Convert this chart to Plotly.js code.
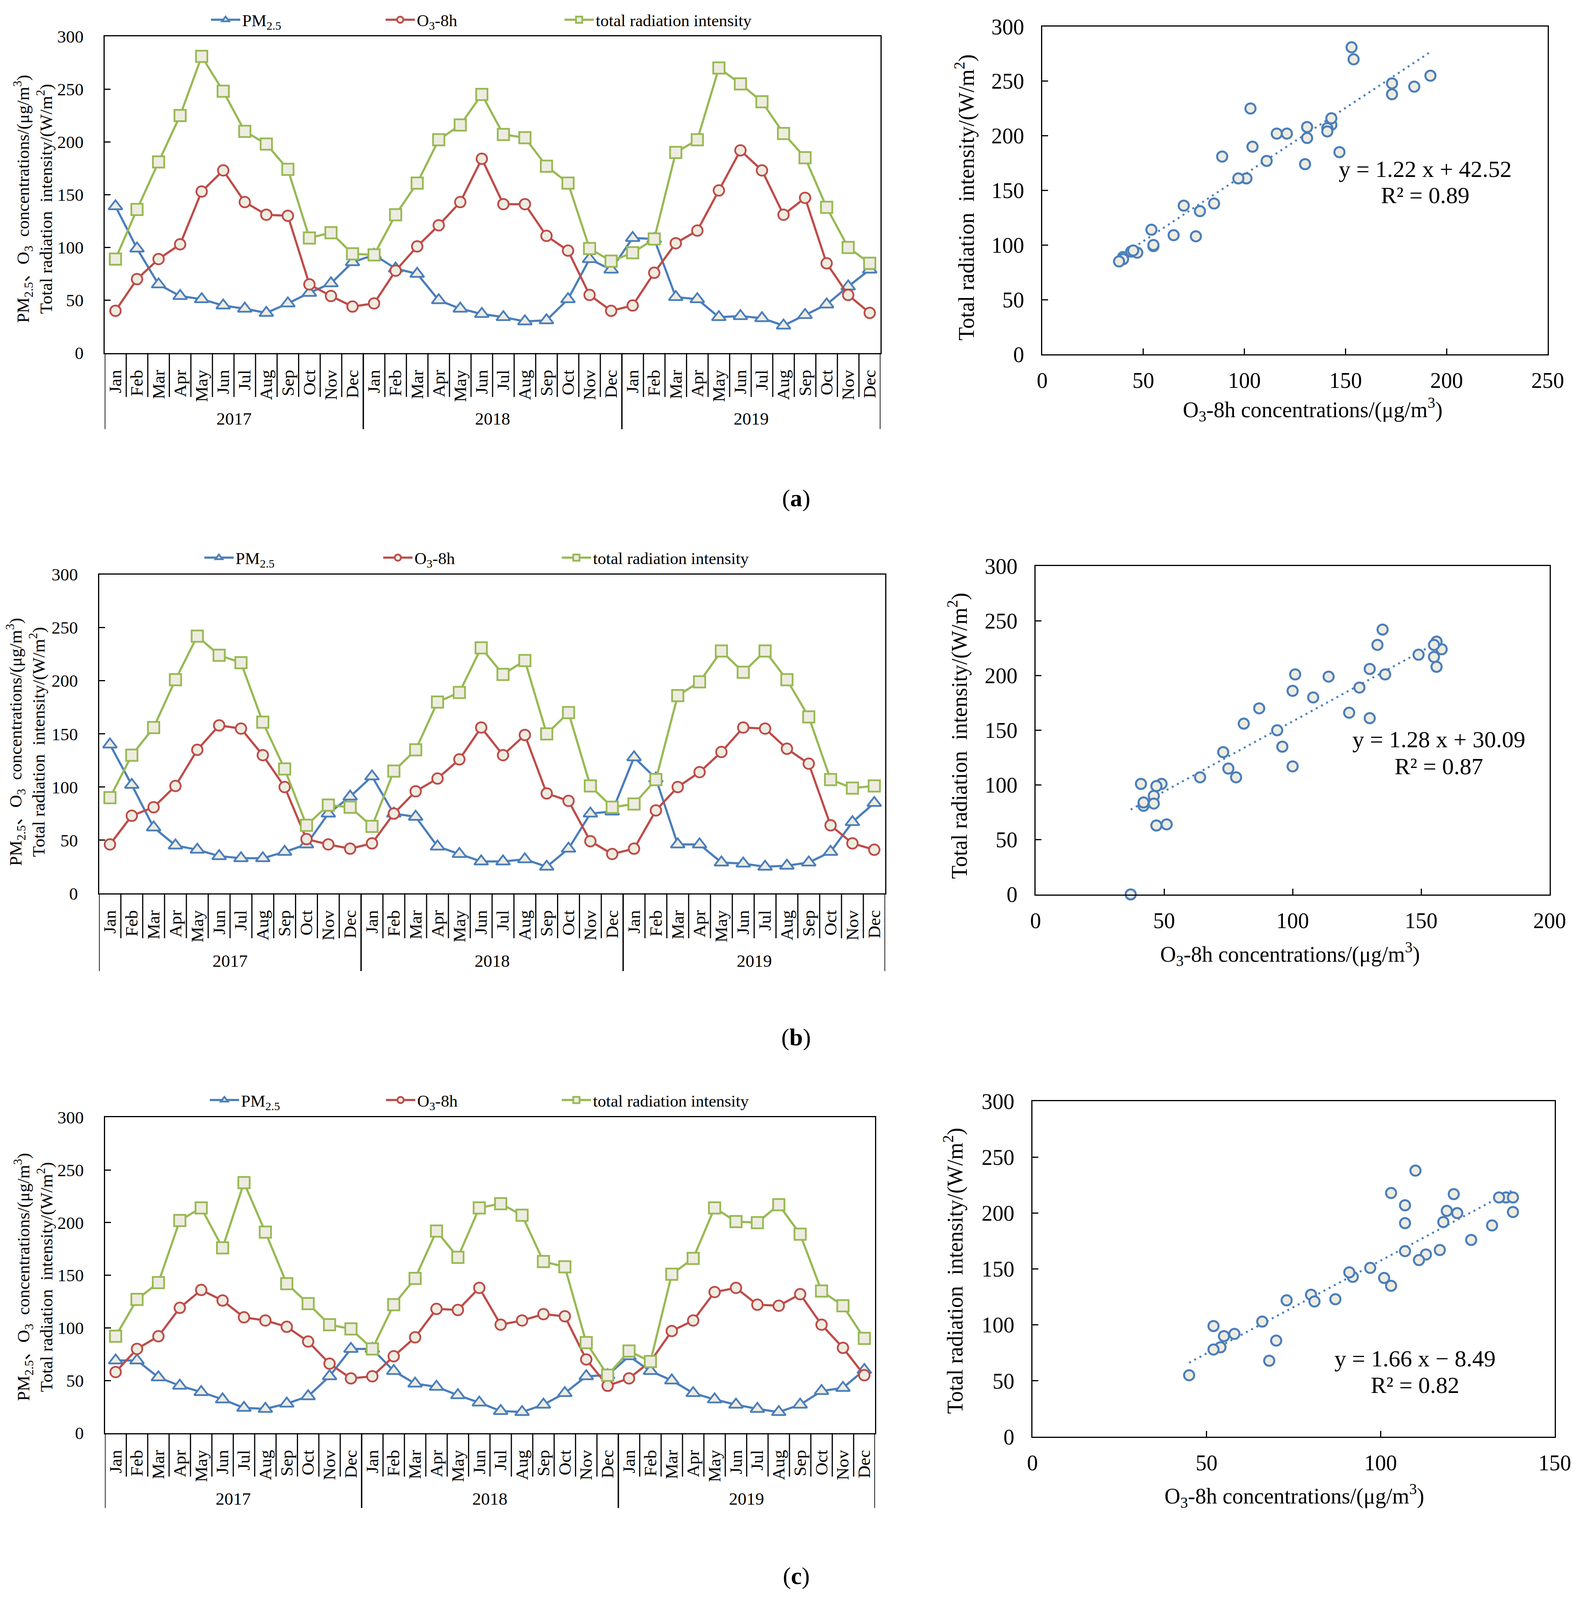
<!DOCTYPE html>
<html>
<head>
<meta charset="utf-8">
<script src="https://cdn.plot.ly/plotly-3.0.1.min.js"></script>
<style>html,body{margin:0;padding:0;background:#fff;overflow:hidden;}</style>
</head>
<body>
<div id="chart"></div>
<script>
// ---------------- DATA ----------------
const months = ['Jan','Feb','Mar','Apr','May','Jun','Jul','Aug','Sep','Oct','Nov','Dec'];
const years = ['2017','2018','2019'];
const seriesNames = ['PM<sub>2.5</sub>', 'O<sub>3</sub>-8h', 'total radiation intensity'];

// Panel (a)
const pmA  = [139,99,65,54,51,45,42,38,47,57,66,86, 93,80,75,50,42,37,34,30,31,51,89,79, 109,108,53,51,34,35,33,26,36,46,63,79];
const o3A  = [40,70,89,103,153,173,143,131,130,65,54,44, 47,78,101,121,143,184,141,141,111,97,55,40, 45,76,104,116,154,192,173,131,147,85,55,38];
const radA = [89,136,181,225,281,248,210,198,174,109,114,94, 93,131,161,202,216,245,207,204,177,161,99,87, 95,108,190,202,270,255,238,208,185,138,100,85];

// Panel (b)
const pmB  = [140,102,62,45,41,35,33,33,39,46,75,91, 110,75,72,44,37,30,30,32,25,42,75,77, 128,108,46,46,29,28,25,26,29,39,67,85];
const o3B  = [46,73,81,101,135,158,155,130,100,51,46,42, 47,75,96,108,126,156,130,149,94,87,49,37, 42,78,100,114,133,156,155,136,122,64,47,41];
const radB = [90,130,156,201,242,224,217,161,117,64,83,81, 63,115,135,180,189,231,206,219,150,170,101,81, 84,107,186,199,228,208,228,201,166,107,99,101];
// radiation as plotted in scatter (b): Dec 2018 appears at 0
const radScatterB = [90,130,156,201,242,224,217,161,117,64,83,81, 63,115,135,180,189,231,206,219,150,170,101,0, 84,107,186,199,228,208,228,201,166,107,99,101];

// Panel (c)
const pmC  = [69,69,53,45,39,32,24,23,28,35,54,80, 80,59,47,44,36,29,21,20,27,38,54,55, 73,59,50,38,32,27,23,20,27,40,43,60];
const o3C  = [58,80,92,119,136,126,110,107,101,87,66,52, 54,73,91,118,117,138,103,107,113,111,70,45, 52,68,97,107,134,138,122,121,132,103,81,55];
const radC = [92,127,143,202,214,176,238,191,142,123,103,99, 80,122,147,192,167,214,218,207,163,158,86,55, 78,68,151,166,214,201,200,217,189,135,121,90];

// Fitted trend lines (as printed on the chart)
const trendSlopes = [1.22, 1.28, 1.66];
const trendIntercepts = [42.52, 30.09, -8.49];
const trendR2 = [0.89, 0.87, 0.82];
const scatterXMax = [250, 200, 150];
const captions = ['a', 'b', 'c'];

// ---------------- STYLE / LAYOUT ----------------
const W = 4037, H0 = 4381;
const vh = Math.min(window.innerHeight || H0, document.documentElement.clientHeight || H0);
const H = (vh > 1000 && vh < H0) ? vh : H0;   // fit the whole figure in the visible viewport
const FS = Math.sqrt(H / H0);                  // mild font compensation for a shorter viewport
const fz = s => Math.round(s * FS);
const chartDiv = document.getElementById('chart');
chartDiv.style.width = W + 'px';
chartDiv.style.height = H + 'px';

const px = v => v / W;
const py = v => 1 - v / H0;
const FONT = "'Liberation Serif', 'Times New Roman', 'Noto Sans CJK SC', serif";
const BLACK = '#000000';
const BLUE = '#4a7ebb', RED = '#be4b48', GREEN = '#98b954', FILL = '#eeece1';
const NB = '\u00a0';

const panelData = [
  {pm: pmA, o3: o3A, rad: radA, srad: radA},
  {pm: pmB, o3: o3B, rad: radB, srad: radScatterB},
  {pm: pmC, o3: o3C, rad: radC, srad: radC}
];
const geo = [
  {line:{l:268,r:2254,t:99.5,b:966.6,sep:1087,div:1175,yearY:1147,legY:54,legX:[547,994,1452],tX:85,tY:545},
   sc:{l:2668,r:3962,t:72.7,b:970,xtX:3360,xtY:1121,ytX:2470,ytY:541,eqX:3648,eq1:463,eq2:535}, cap:1364},
  {line:{l:253.5,r:2266,t:1573,b:2446,sep:2569,div:2659,yearY:2631,legY:1527,legX:[530,988,1445],tX:66,tY:2032},
   sc:{l:2651,r:3967,t:1550,b:2449,xtX:3302,xtY:2612,ytX:2452,ytY:2015,eqX:3683,eq1:2025,eq2:2099}, cap:2840},
  {line:{l:268.6,r:2240,t:3059.5,b:3924,sep:4043,div:4129,yearY:4104,legY:3012,legX:[544,995,1445],tX:86,tY:3497},
   sc:{l:2643,r:3980,t:3015.5,b:3934,xtX:3313,xtY:4095,ytX:2441,ytY:3480,eqX:3622,eq1:3720,eq2:3793}, cap:4315}
];

const traces = [];
const shapes = [];
const annotations = [];
const layout = {
  width: W, height: H,
  margin: {l:0, r:0, t:0, b:0},
  paper_bgcolor: '#ffffff', plot_bgcolor: '#ffffff',
  font: {family: FONT, color: BLACK},
  showlegend: true,
  shapes: shapes, annotations: annotations
};

const monthLabels = years.flatMap(() => months);
let legendCount = 0;

panelData.forEach((d, i) => {
  const g = geo[i];
  const nL = 2*i + 1, nS = 2*i + 2;
  const xL = 'x' + nL, yL = 'y' + nL, xS = 'x' + nS, yS = 'y' + nS;
  const idx = d.pm.map((_, k) => k);

  // ---- line chart traces ----
  const series = [
    {y: d.pm,  color: BLUE,  symbol: 'triangle-up', size: 31},
    {y: d.o3,  color: RED,   symbol: 'circle',      size: 27},
    {y: d.rad, color: GREEN, symbol: 'square',      size: 29}
  ];
  series.forEach((s, j) => {
    legendCount++;
    const lid = legendCount === 1 ? 'legend' : 'legend' + legendCount;
    traces.push({
      type: 'scatter', mode: 'lines+markers', x: idx, y: s.y,
      xaxis: xL, yaxis: yL, name: seriesNames[j], legend: lid,
      line: {color: s.color, width: 5.5},
      marker: {symbol: s.symbol, size: s.size, color: FILL, line: {color: s.color, width: 4.5}},
      cliponaxis: false, hoverinfo: 'skip'
    });
    layout[lid] = {
      orientation: 'h', x: px(g.line.legX[j] - 12), y: py(g.line.legY),
      xanchor: 'left', yanchor: 'middle', bgcolor: 'rgba(0,0,0,0)', borderwidth: 0,
      font: {family: FONT, size: fz(44), color: BLACK}, itemwidth: 75, itemsizing: 'trace'
    };
  });

  layout['xaxis' + nL] = {
    domain: [px(g.line.l), px(g.line.r)], anchor: yL,
    range: [-0.5, idx.length - 0.5], tickmode: 'array', tickvals: idx, ticktext: monthLabels,
    tickangle: -90, ticks: '', showline: true, linewidth: 3, linecolor: BLACK, mirror: true,
    showgrid: false, zeroline: false, ticklabelstandoff: 22,
    tickfont: {family: FONT, size: fz(47), color: BLACK}, fixedrange: true
  };
  layout['yaxis' + nL] = {
    domain: [py(g.line.b), py(g.line.t)], anchor: xL,
    range: [0, 300], tickmode: 'linear', tick0: 0, dtick: 50,
    ticks: 'inside', ticklen: 15, tickwidth: 3, tickcolor: BLACK,
    showline: true, linewidth: 3, linecolor: BLACK, mirror: true,
    showgrid: false, zeroline: false, ticklabelstandoff: 42,
    tickfont: {family: FONT, size: fz(47), color: BLACK}, fixedrange: true
  };

  // month / year separators below axis
  for (let k = 0; k <= idx.length; k++) {
    const isYear = (k % months.length) === 0;
    shapes.push({
      type: 'line', xref: xL, yref: 'paper', x0: k - 0.5, x1: k - 0.5,
      y0: py(g.line.b), y1: py(isYear ? g.line.div : g.line.sep),
      line: {color: BLACK, width: isYear ? 3.5 : 3}
    });
  }
  years.forEach((yr, j) => {
    annotations.push({
      xref: xL, yref: 'paper', x: j*months.length + (months.length - 1)/2, y: py(g.line.yearY),
      text: yr, showarrow: false, xanchor: 'center', yanchor: 'middle',
      font: {family: FONT, size: fz(47), color: BLACK}
    });
  });
  annotations.push({
    xref: 'paper', yref: 'paper', x: px(g.line.tX), y: py(g.line.tY),
    text: 'PM<sub>2.5</sub>、O<sub>3</sub>' + NB + ' concentrations/(μg/m<sup>3</sup>)<br>Total radiation' + NB + ' intensity/(W/m<sup>2</sup>)',
    textangle: -90, showarrow: false, xanchor: 'center', yanchor: 'middle',
    font: {family: FONT, size: fz(47), color: BLACK}
  });

  // ---- scatter chart ----
  const xmin = Math.min(...d.o3), xmax = Math.max(...d.o3);
  const m = trendSlopes[i], b = trendIntercepts[i];
  traces.push({
    type: 'scatter', mode: 'lines', x: [xmin, xmax], y: [m*xmin + b, m*xmax + b],
    xaxis: xS, yaxis: yS, showlegend: false, hoverinfo: 'skip',
    line: {color: BLUE, width: 5, dash: '5px,10px'}
  });
  traces.push({
    type: 'scatter', mode: 'markers', x: d.o3, y: d.srad,
    xaxis: xS, yaxis: yS, showlegend: false, hoverinfo: 'skip', cliponaxis: false,
    marker: {symbol: 'circle', size: 26, color: FILL, line: {color: BLUE, width: 5}}
  });
  layout['xaxis' + nS] = {
    domain: [px(g.sc.l), px(g.sc.r)], anchor: yS,
    range: [0, scatterXMax[i]], tickmode: 'linear', tick0: 0, dtick: 50,
    ticks: 'inside', ticklen: 15, tickwidth: 3, tickcolor: BLACK,
    showline: true, linewidth: 3, linecolor: BLACK, mirror: true,
    showgrid: false, zeroline: false, ticklabelstandoff: 16,
    tickfont: {family: FONT, size: fz(58), color: BLACK}, fixedrange: true
  };
  layout['yaxis' + nS] = {
    domain: [py(g.sc.b), py(g.sc.t)], anchor: xS,
    range: [0, 300], tickmode: 'linear', tick0: 0, dtick: 50,
    ticks: 'inside', ticklen: 15, tickwidth: 3, tickcolor: BLACK,
    showline: true, linewidth: 3, linecolor: BLACK, mirror: true,
    showgrid: false, zeroline: false, ticklabelstandoff: 32,
    tickfont: {family: FONT, size: fz(58), color: BLACK}, fixedrange: true
  };
  annotations.push({
    xref: 'paper', yref: 'paper', x: px(g.sc.xtX), y: py(g.sc.xtY),
    text: 'O<sub>3</sub>-8h concentrations/(μg/m<sup>3</sup>)', showarrow: false,
    xanchor: 'center', yanchor: 'middle', font: {family: FONT, size: fz(58), color: BLACK}
  });
  annotations.push({
    xref: 'paper', yref: 'paper', x: px(g.sc.ytX), y: py(g.sc.ytY),
    text: 'Total radiation' + NB + ' intensity/(W/m<sup>2</sup>)', textangle: -90, showarrow: false,
    xanchor: 'center', yanchor: 'middle', font: {family: FONT, size: fz(58), color: BLACK}
  });
  const eqText = 'y = ' + m.toFixed(2) + ' x ' + (b < 0 ? '\u2212 ' : '+ ') + Math.abs(b).toFixed(2);
  annotations.push({
    xref: 'paper', yref: 'paper', x: px(g.sc.eqX), y: py(g.sc.eq1), text: eqText, showarrow: false,
    xanchor: 'center', yanchor: 'middle', font: {family: FONT, size: fz(62), color: BLACK}
  });
  annotations.push({
    xref: 'paper', yref: 'paper', x: px(g.sc.eqX), y: py(g.sc.eq2), text: 'R² = ' + trendR2[i].toFixed(2), showarrow: false,
    xanchor: 'center', yanchor: 'middle', font: {family: FONT, size: fz(62), color: BLACK}
  });

  // caption
  annotations.push({
    xref: 'paper', yref: 'paper', x: px(2038), y: py(g.cap), text: '(<b>' + captions[i] + '</b>)', showarrow: false,
    xanchor: 'center', yanchor: 'middle', font: {family: FONT, size: fz(64), color: BLACK}
  });
});

Plotly.newPlot('chart', traces, layout, {staticPlot: true, displayModeBar: false});
</script>
</body>
</html>
